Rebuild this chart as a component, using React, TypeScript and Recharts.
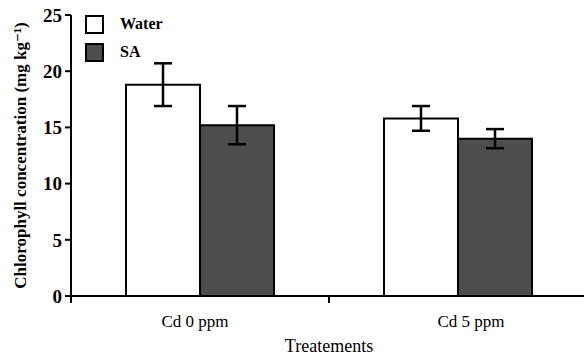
import { BarChart, Bar, XAxis, YAxis, ErrorBar, Label } from 'recharts'

const categories = ['Cd 0 ppm', 'Cd 5 ppm']
const waterValues = [18.8, 15.8]
const waterErrors = [1.9, 1.1]
const saValues = [15.2, 14.0]
const saErrors = [1.7, 0.85]
const yTicks = [0, 5, 10, 15, 20, 25]
const xTicks = [0, 0.5, 1, 1.5, 2]
const seriesNames = ['Water', 'SA']
const seriesFills = ['#ffffff', '#4d4d4d']

// each category sits in the middle of its own unit slot
const data = categories.map((c, i) => ({
  name: c,
  pos: i + 0.5,
  water: waterValues[i],
  waterErr: waterErrors[i],
  sa: saValues[i],
  saErr: saErrors[i],
}))

const FONT = '"Liberation Serif", "DejaVu Serif", serif'
// the original figure's category labels are not quite centred under the groups
const LABEL_NUDGE = [-5, 13]

// integer ticks are slot edges (short mark), half ticks carry the category name
function XTick(props: any) {
  const { x, y, payload } = props
  const v = payload.value as number
  if (Number.isInteger(v)) {
    return <line x1={x} x2={x} y1={y} y2={y + 7} stroke="#000" strokeWidth={2} />
  }
  const idx = Math.floor(v)
  return (
    <text x={x + LABEL_NUDGE[idx]} y={y + 31} textAnchor="middle" fill="#000" fontFamily={FONT} fontSize={17}>
      {categories[idx]}
    </text>
  )
}

function LegendBox() {
  return (
    <div
      style={{
        position: 'absolute',
        left: 85,
        top: 10,
        fontFamily: FONT,
        fontWeight: 'bold',
        fontSize: 16,
      }}
    >
      {seriesNames.map((name, i) => (
        <div key={name} style={{ display: 'flex', alignItems: 'center', height: 28 }}>
          <span
            style={{
              display: 'inline-block',
              width: 15,
              height: 15,
              border: '2px solid #000',
              background: seriesFills[i],
              marginRight: 16,
            }}
          />
          <span>{name}</span>
        </div>
      ))}
    </div>
  )
}

export default function App() {
  return (
    <div style={{ position: 'absolute', left: 0, top: 0, width: 584, height: 358, overflow: 'hidden', background: '#fff' }}>
      <BarChart
        width={587}
        height={358}
        data={data}
        margin={{ top: 15, right: 0, left: 0, bottom: 0 }}
        barSize={74}
        barGap={0}
      >
        <XAxis
          dataKey="pos"
          type="number"
          domain={[0, 2]}
          ticks={xTicks}
          interval={0}
          height={62}
          axisLine={{ stroke: '#000', strokeWidth: 2 }}
          tickLine={false}
          tickSize={0}
          tickMargin={0}
          tick={<XTick />}
        >
          <Label
            value="Treatements"
            position="insideBottom"
            offset={6}
            style={{ fill: '#000', fontFamily: FONT, fontSize: 18 }}
          />
        </XAxis>
        <YAxis
          width={71}
          domain={[0, 25]}
          ticks={yTicks}
          axisLine={{ stroke: '#000', strokeWidth: 2 }}
          tickLine={{ stroke: '#000', strokeWidth: 2 }}
          tickSize={6}
          tickMargin={3}
          tick={{ fill: '#000', fontFamily: FONT, fontSize: 19, fontWeight: 'bold' }}
        >
          <Label
            value="Chlorophyll concentration (mg kg⁻¹)"
            angle={-90}
            position="insideLeft"
            offset={20}
            style={{ textAnchor: 'middle', fill: '#000', fontFamily: FONT, fontSize: 17, fontWeight: 'bold' }}
          />
        </YAxis>
        <Bar dataKey="water" fill={seriesFills[0]} stroke="#000" strokeWidth={2} isAnimationActive={false}>
          <ErrorBar dataKey="waterErr" width={9} stroke="#000" strokeWidth={2.5} />
        </Bar>
        <Bar dataKey="sa" fill={seriesFills[1]} stroke="#000" strokeWidth={2} isAnimationActive={false}>
          <ErrorBar dataKey="saErr" width={9} stroke="#000" strokeWidth={2.5} />
        </Bar>
      </BarChart>
      <LegendBox />
    </div>
  )
}
